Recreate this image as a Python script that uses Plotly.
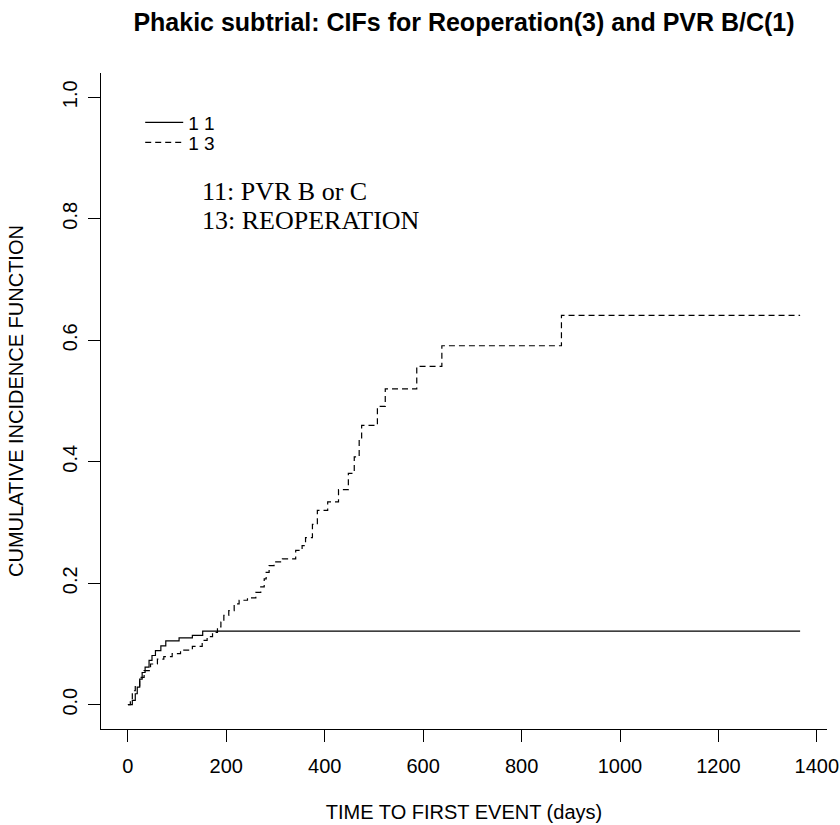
import plotly.graph_objects as go

# Cumulative incidence, cause 11 (PVR B or C)
t11 = [0, 9, 15, 19, 24, 29, 35, 43, 49, 56, 67, 77, 104, 131, 152, 1366]
cif11 = [0, 0.007, 0.018, 0.029, 0.042, 0.053, 0.062, 0.073, 0.081, 0.089,
         0.097, 0.105, 0.110, 0.114, 0.121, 0.121]

# Cumulative incidence, cause 13 (Reoperation)
t13 = [0, 5, 9, 15, 24, 33, 46, 60, 73, 90,
       107, 131, 151, 161, 172, 182, 189, 195, 205, 216,
       226, 243, 260, 270, 277, 281, 287, 297, 314, 341,
       354, 361, 375, 385, 406, 428, 448, 460, 470, 475,
       507, 523, 587, 638, 881, 1366]
cif13 = [0, 0.009, 0.023, 0.031, 0.045, 0.056, 0.067, 0.075, 0.079, 0.084,
         0.090, 0.096, 0.106, 0.112, 0.119, 0.128, 0.136, 0.147, 0.155, 0.166,
         0.172, 0.176, 0.185, 0.194, 0.207, 0.218, 0.229, 0.235, 0.240, 0.254,
         0.262, 0.275, 0.297, 0.320, 0.334, 0.354, 0.381, 0.408, 0.436, 0.460,
         0.491, 0.520, 0.557, 0.591, 0.641, 0.641]

legend_labels = ["1 1", "1 3"]
note_lines = ["11: PVR B or C", "13: REOPERATION"]
x_ticks = [0, 200, 400, 600, 800, 1000, 1200, 1400]
y_ticks = [0.0, 0.2, 0.4, 0.6, 0.8, 1.0]

SANS = "Liberation Sans, Arial, sans-serif"
SERIF = "Liberation Serif, Times New Roman, serif"

fig = go.Figure()
fig.add_trace(go.Scatter(x=t11, y=cif11, mode="lines", line_shape="hv",
                         line=dict(color="black", width=1.2),
                         name=legend_labels[0], legend="legend"))
fig.add_trace(go.Scatter(x=t13, y=cif13, mode="lines", line_shape="hv",
                         line=dict(color="black", width=1.2, dash="6px,4px"),
                         name=legend_labels[1], legend="legend2"))

fig.add_annotation(x=147, y=0.845, xref="x", yref="y", text=note_lines[0],
                   showarrow=False, xanchor="left", yanchor="middle",
                   font=dict(family=SERIF, size=26, color="black"))
fig.add_annotation(x=147, y=0.797, xref="x", yref="y", text=note_lines[1],
                   showarrow=False, xanchor="left", yanchor="middle",
                   font=dict(family=SERIF, size=26, color="black"))

leg_common = dict(xanchor="left", yanchor="top", bgcolor="rgba(0,0,0,0)",
                  borderwidth=0, font=dict(family=SANS, size=19, color="black"),
                  tracegroupgap=0, itemwidth=38)

fig.update_layout(
    width=840, height=825,
    margin=dict(l=101, r=13, t=73, b=96),
    paper_bgcolor="white", plot_bgcolor="white",
    showlegend=True,
    legend=dict(x=0.054, y=0.9535, **leg_common),
    legend2=dict(x=0.054, y=0.923, **leg_common),
    title=dict(text="<b>Phakic subtrial: CIFs for Reoperation(3) and PVR B/C(1)</b>",
               x=0.5, xref="paper", xanchor="center",
               y=1 - 22 / 825, yref="container", yanchor="middle",
               font=dict(family=SANS, size=25, color="black")),
    xaxis=dict(range=[-54.64, 1420.64], tickvals=x_ticks, automargin=False,
               showline=True, linecolor="black", linewidth=1, mirror=False,
               ticks="outside", ticklen=12, tickcolor="black", tickwidth=1,
               showgrid=False, zeroline=False, ticklabelstandoff=7,
               tickfont=dict(family=SANS, size=20, color="black"),
               title=dict(text="TIME TO FIRST EVENT (days)", standoff=28,
                          font=dict(family=SANS, size=20, color="black"))),
    yaxis=dict(range=[-0.04, 1.04], tickvals=y_ticks, tickformat=".1f",
               tickangle=-90, ticklabelstandoff=3, automargin=False,
               showline=True, linecolor="black", linewidth=1, mirror=False,
               ticks="outside", ticklen=12, tickcolor="black", tickwidth=1,
               showgrid=False, zeroline=False,
               tickfont=dict(family=SANS, size=20, color="black"),
               title=dict(text="CUMULATIVE INCIDENCE FUNCTION", standoff=30,
                          font=dict(family=SANS, size=20, color="black"))),
)

fig.write_html("out.html")
